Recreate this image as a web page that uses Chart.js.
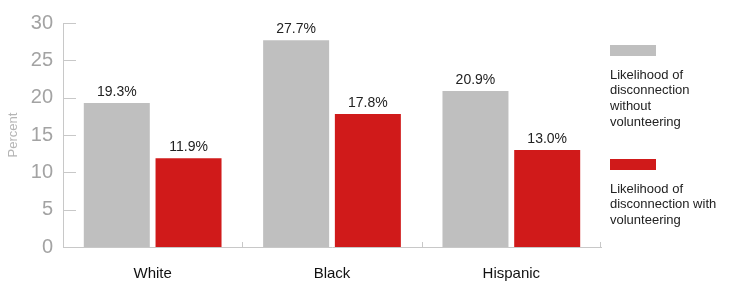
<!DOCTYPE html>
<html>
<head>
<meta charset="utf-8">
<script src="https://cdn.jsdelivr.net/npm/chart.js@4"></script>
<style>
  html, body { margin: 0; padding: 0; background: #fff; }
  #wrap { width: 739px; height: 290px; }
</style>
</head>
<body>
<div id="wrap"><canvas id="myChart" width="739" height="290"></canvas></div>
<script>
const categories = ['White', 'Black', 'Hispanic'];
const withoutVolunteering = [19.3, 27.7, 20.9];
const withVolunteering = [11.9, 17.8, 13.0];
const yTicks = [0, 5, 10, 15, 20, 25, 30];
const seriesNames = [
    ['Likelihood of', 'disconnection', 'without', 'volunteering'],
    ['Likelihood of', 'disconnection with', 'volunteering']
];

const FONT = '"Liberation Sans", Arial, Helvetica, sans-serif';
const GREY = '#bfbfbf';
const RED = '#d01a1a';
const AXIS = '#c8c8c8';

// short inner ticks on both axes, like the original
const axisMarks = {
    id: 'axisMarks',
    afterDatasetsDraw(chart) {
        const ctx = chart.ctx;
        const y = chart.scales.y;
        const x = chart.scales.x;
        const area = chart.chartArea;
        ctx.save();
        ctx.strokeStyle = AXIS;
        ctx.lineWidth = 1;
        ctx.beginPath();
        yTicks.forEach(v => {
            const py = Math.round(y.getPixelForValue(v)) + 0.5;
            ctx.moveTo(area.left, py);
            ctx.lineTo(area.left + 13, py);
        });
        for (let i = 0; i < categories.length; i++) {
            const px = Math.round((x.getPixelForValue(i) + x.getPixelForValue(i + 1)) / 2) + 0.5;
            const pxr = i === categories.length - 1 ? Math.round(area.right) - 0.5 : px;
            ctx.moveTo(pxr, area.bottom);
            ctx.lineTo(pxr, area.bottom - 5);
        }
        ctx.stroke();
        ctx.restore();
    }
};

// value labels above bars
const valueLabels = {
    id: 'valueLabels',
    afterDatasetsDraw(chart) {
        const ctx = chart.ctx;
        ctx.save();
        ctx.font = '14px ' + FONT;
        ctx.fillStyle = '#222';
        ctx.textAlign = 'center';
        ctx.textBaseline = 'alphabetic';
        chart.data.datasets.forEach((ds, i) => {
            chart.getDatasetMeta(i).data.forEach((bar, j) => {
                ctx.fillText(ds.data[j].toFixed(1) + '%', bar.x, bar.y - 7);
            });
        });
        ctx.restore();
    }
};

// legend on the right with wrapped names
const sideLegend = {
    id: 'sideLegend',
    afterDraw(chart) {
        const ctx = chart.ctx;
        const left = chart.chartArea.right + 9;
        const tops = [45, 159];
        ctx.save();
        chart.data.datasets.forEach((ds, i) => {
            ctx.fillStyle = ds.backgroundColor;
            ctx.fillRect(left, tops[i], 46, 11);
            ctx.fillStyle = '#222';
            ctx.font = '13px ' + FONT;
            ctx.textAlign = 'left';
            ctx.textBaseline = 'middle';
            seriesNames[i].forEach((line, k) => {
                ctx.fillText(line, left, tops[i] + 30 + k * 15.7);
            });
        });
        ctx.restore();
    }
};

const ctx = document.getElementById('myChart').getContext('2d');
new Chart(ctx, {
    type: 'bar',
    data: {
        labels: categories,
        datasets: [{
            label: seriesNames[0].join(' '),
            data: withoutVolunteering,
            backgroundColor: GREY,
            categoryPercentage: 0.8,
            barPercentage: 0.92
        }, {
            label: seriesNames[1].join(' '),
            data: withVolunteering,
            backgroundColor: RED,
            categoryPercentage: 0.8,
            barPercentage: 0.92
        }]
    },
    options: {
        responsive: false,
        animation: false,
        layout: { padding: { top: 23, right: 138, bottom: 0, left: 0 } },
        plugins: {
            legend: { display: false },
            tooltip: { enabled: false }
        },
        scales: {
            x: {
                grid: { display: false, drawTicks: false },
                border: { color: AXIS },
                ticks: { color: '#111', font: { family: FONT, size: 15 }, padding: 18 },
                afterFit(scale) { scale.height = 43; }
            },
            y: {
                min: 0,
                max: 30,
                afterBuildTicks(scale) { scale.ticks = yTicks.map(v => ({ value: v })); },
                grid: { display: false, drawTicks: false },
                border: { color: AXIS },
                ticks: { color: '#a3a3a3', font: { family: FONT, size: 20 }, padding: 10 },
                title: {
                    display: true,
                    text: 'Percent',
                    color: '#b5b5b5',
                    font: { family: FONT, size: 13 },
                    padding: { top: 6, bottom: 0 }
                },
                afterFit(scale) { scale.width = 63; }
            }
        }
    },
    plugins: [axisMarks, valueLabels, sideLegend]
});
</script>
</body>
</html>
